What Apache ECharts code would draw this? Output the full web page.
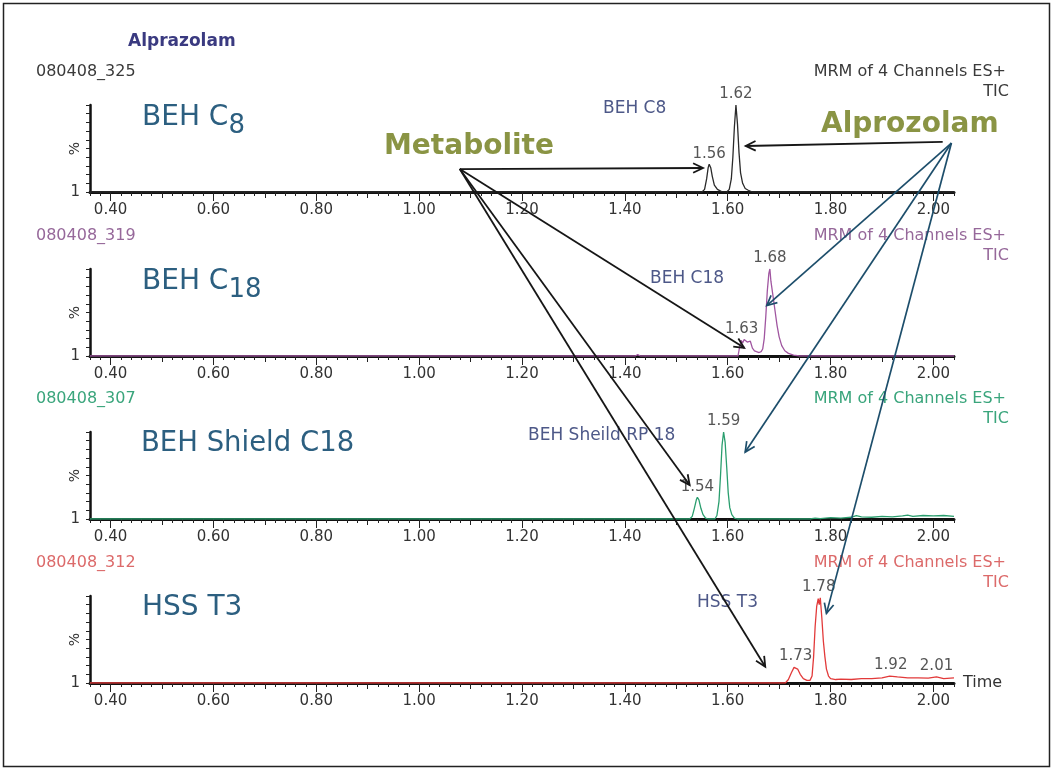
<!DOCTYPE html>
<html><head><meta charset="utf-8">
<script src="https://cdn.jsdelivr.net/npm/echarts@6/dist/echarts.min.js"></script>
<style>html,body{margin:0;padding:0;background:#fff}#c{width:1054px;height:771px}</style>
</head><body><div id="c"></div>
<script>
// ---------------- DATA ----------------
const xTickLabels = [0.40, 0.60, 0.80, 1.00, 1.20, 1.40, 1.60, 1.80, 2.00];
const xMediumTicks = [0.50, 0.70, 0.90, 1.10, 1.30, 1.50, 1.70, 1.90];
const X_MIN = 0.36, X_MAX = 2.04;

const runIds = ['080408_325', '080408_319', '080408_307', '080408_312'];
const columnNames = ['BEH C8', 'BEH C18', 'BEH Sheild RP 18', 'HSS T3'];
const channelText = 'MRM of 4 Channels ES+';
const channelSub = 'TIC';

// [time (min), intensity (%)]
const c8Trace = [[0.36,0],[1.550,0],[1.555,3],[1.559,15],[1.562,28],[1.564,32],[1.567,28],[1.570,18],[1.574,8],[1.580,3],[1.588,0.5],[1.598,0],[1.603,3],[1.607,15],[1.610,40],[1.613,75],[1.616,100],[1.619,78],[1.622,45],[1.625,22],[1.629,10],[1.634,4],[1.640,2],[1.648,0],[2.04,0]];
const c18Trace = [[0.36,0],[1.420,0],[1.425,1.5],[1.430,0],[1.620,0],[1.623,10],[1.626,18],[1.629,15],[1.632,19],[1.635,20],[1.638,16],[1.641,18],[1.644,17],[1.648,9],[1.652,6],[1.656,5],[1.661,4],[1.665,5],[1.668,8],[1.671,20],[1.674,45],[1.677,75],[1.680,95],[1.682,100],[1.684,86],[1.686,84],[1.689,65],[1.692,52],[1.696,35],[1.700,22],[1.705,12],[1.711,6],[1.718,3],[1.728,1],[1.740,0],[2.04,0]];
const shieldTrace = [[0.36,0],[1.526,0],[1.531,3],[1.535,12],[1.539,22],[1.541,25],[1.544,22],[1.548,12],[1.552,5],[1.557,1],[1.562,0],[1.575,0],[1.579,4],[1.583,20],[1.586,50],[1.589,85],[1.592,100],[1.595,88],[1.598,60],[1.601,30],[1.604,13],[1.608,5],[1.613,1],[1.618,0],[1.76,0],[1.77,1],[1.78,0.5],[1.80,1.5],[1.82,1],[1.84,2],[1.85,4],[1.86,2.5],[1.88,2],[1.90,3],[1.92,2.5],[1.94,3.5],[1.95,4.5],[1.96,3],[1.98,4],[2.00,3.5],[2.02,4],[2.04,3]];
const t3Trace = [[0.36,0],[1.712,0],[1.718,4],[1.724,12],[1.729,18],[1.732,19],[1.736,16],[1.741,10],[1.747,5],[1.754,3],[1.760,3],[1.764,8],[1.767,30],[1.770,65],[1.773,88],[1.776,97],[1.778,90],[1.780,98],[1.783,75],[1.786,48],[1.789,30],[1.792,16],[1.796,8],[1.800,5],[1.81,4],[1.82,4.5],[1.84,4],[1.86,5],[1.88,5],[1.90,6],[1.915,8],[1.93,7],[1.95,6],[1.97,6],[1.99,5.5],[2.006,7],[2.02,5],[2.04,6]];

// [time, intensity, label]
const c8Peaks = [[1.616,100,'1.62'],[1.564,32,'1.56']];
const c18Peaks = [[1.682,100,'1.68'],[1.627,19,'1.63']];
const shieldPeaks = [[1.592,100,'1.59'],[1.541,25,'1.54']];
const t3Peaks = [[1.777,98,'1.78'],[1.732,19,'1.73'],[1.917,8,'1.92'],[2.006,7,'2.01']];

// annotation arrows: [panel, time, intensity]
const metaboliteFrom = [0, 1.079, 26.4];
const metaboliteTo = [[0,1.552,27.6],[1,1.632,9.4],[2,1.526,39],[3,1.673,18.7]];
const alproBlackFrom = [0, 2.018, 57.5];
const alproBlackTo = [0, 1.635, 52.9];
const alproFrom = [0, 2.035, 56.3];
const alproTo = [[1,1.676,58],[2,1.634,77],[3,1.792,80]];

// ---------------- STYLE ----------------
const FONT = 'DejaVu Sans';
const GRID_TOP = [105, 269, 432, 596];
const GRID_H = 87;
const traces = [c8Trace, c18Trace, shieldTrace, t3Trace];
const peaks = [c8Peaks, c18Peaks, shieldPeaks, t3Peaks];
const traceColors = ['#2a2a2a', '#a056a0', '#2a9e6e', '#e23a3a'];
const headerColors = ['#3a3a3a', '#96689a', '#3aa57c', '#dc6a6a'];

const grids = [], xAxes = [], yAxes = [], series = [];
for (let i = 0; i < 4; i++) {
  grids.push({left: 90, top: GRID_TOP[i], width: 864, height: GRID_H});
  const base = {gridIndex: i, type: 'value', min: X_MIN, max: X_MAX, position: 'bottom', splitLine: {show: false}};
  xAxes.push(Object.assign({}, base, {
    interval: 0.02,
    axisLine: {onZero: false, lineStyle: {color: '#111', width: 3}},
    axisTick: {length: 4, lineStyle: {color: '#222', width: 1}},
    axisLabel: {customValues: xTickLabels, formatter: v => v.toFixed(2), margin: 11, fontFamily: FONT, fontSize: 15, color: '#333'},
    name: i === 3 ? 'Time' : '', nameLocation: 'end', nameGap: 9,
    nameTextStyle: {fontFamily: FONT, fontSize: 16, color: '#333'}
  }));
  xAxes.push(Object.assign({}, base, {
    axisLine: {show: false}, axisLabel: {show: false},
    axisTick: {show: true, customValues: xMediumTicks, length: 6, lineStyle: {color: '#222', width: 1}}
  }));
  xAxes.push(Object.assign({}, base, {
    axisLine: {show: false}, axisLabel: {show: false},
    axisTick: {show: true, customValues: xTickLabels, length: 9, lineStyle: {color: '#222', width: 1}}
  }));
  yAxes.push({
    gridIndex: i, type: 'value', min: 0, max: 100, interval: 10,
    axisLine: {show: true, onZero: false, lineStyle: {color: '#111', width: 2.5}},
    axisTick: {show: true, length: 4, lineStyle: {color: '#222', width: 1}},
    axisLabel: {customValues: [0], formatter: () => '1', margin: 10, fontFamily: FONT, fontSize: 15, color: '#333'},
    splitLine: {show: false},
    name: '%', nameLocation: 'middle', nameGap: 8, nameMoveOverlap: false,
    nameTextStyle: {fontFamily: FONT, fontSize: 14, color: '#333'}
  });
  series.push({
    type: 'line', xAxisIndex: 3 * i, yAxisIndex: i, data: traces[i],
    symbol: 'none', showSymbol: false, silent: true, z: 5,
    lineStyle: {color: traceColors[i], width: 1.3}
  });
  series.push({
    type: 'scatter', xAxisIndex: 3 * i, yAxisIndex: i, silent: true, z: 6,
    symbolSize: 0,
    data: peaks[i].map(d => ({value: [d[0], d[1]], name: d[2]})),
    label: {show: true, position: 'top', distance: 3, formatter: '{b}', fontFamily: FONT, fontSize: 15, color: '#2a2a2a'}
  });
}

const chart = echarts.init(document.getElementById('c'), null, {renderer: 'canvas'});
chart.setOption({
  backgroundColor: '#fff', animation: false,
  grid: grids, xAxis: xAxes, yAxis: yAxes, series: series
});

// ---------------- ANNOTATIONS ----------------
function px(p) { return chart.convertToPixel({xAxisIndex: 3 * p[0], yAxisIndex: p[0]}, [p[1], p[2]]); }
function arrow(from, to, color, width) {
  const a = px(from), b = px(to);
  const dx = b[0] - a[0], dy = b[1] - a[1], L = Math.hypot(dx, dy), ux = dx / L, uy = dy / L;
  const h = 11, ang = 0.45, c = Math.cos(ang), s = Math.sin(ang);
  const l = [b[0] - h * (ux * c - uy * s), b[1] - h * (uy * c + ux * s)];
  const r = [b[0] - h * (ux * c + uy * s), b[1] - h * (uy * c - ux * s)];
  return [
    {type: 'line', z: 100, shape: {x1: a[0], y1: a[1], x2: b[0], y2: b[1]}, style: {stroke: color, lineWidth: width}},
    {type: 'polyline', z: 100, shape: {points: [l, b, r]}, style: {stroke: color, lineWidth: width, fill: null}}
  ];
}
function txt(x, y, text, opt) {
  return {type: 'text', x: x, y: y, z: 50, style: Object.assign({text: text, fontFamily: FONT, fontSize: 16, fill: '#333', align: 'left', verticalAlign: 'middle'}, opt || {})};
}

const g = [];
g.push({type: 'rect', z: 0, shape: {x: 3.5, y: 3.5, width: 1046, height: 763}, style: {fill: 'none', stroke: '#222', lineWidth: 1.5}});
g.push(txt(128, 42, 'Alprazolam', {fontSize: 17, fontWeight: 'bold', fill: '#3a3a80'}));
const baseY = GRID_TOP.map(t => t + GRID_H);
const colNameX = [603, 650, 528, 697];
const colNameY = [109, 279, 436, 603];
for (let i = 0; i < 4; i++) {
  g.push(txt(36, baseY[i] - 120, runIds[i], {fill: headerColors[i]}));
  g.push(txt(1006, baseY[i] - 120, channelText, {fill: headerColors[i], align: 'right'}));
  g.push(txt(1009, baseY[i] - 100, channelSub, {fill: headerColors[i], align: 'right'}));
  g.push(txt(colNameX[i], colNameY[i], columnNames[i], {fontSize: 17, fill: '#4d5888'}));
}
const bigColor = '#2c5f80';
const richBig = {
  a: {fontFamily: FONT, fontSize: 28, lineHeight: 28, verticalAlign: 'top', fill: bigColor},
  s: {fontFamily: FONT, fontSize: 26, lineHeight: 44, verticalAlign: 'middle', fill: bigColor}
};
g.push({type: 'text', x: 142, y: 126, z: 50, style: {text: '{a|BEH C}{s|8}', rich: richBig, verticalAlign: 'middle', align: 'left'}});
g.push({type: 'text', x: 142, y: 290, z: 50, style: {text: '{a|BEH C}{s|18}', rich: richBig, verticalAlign: 'middle', align: 'left'}});
g.push(txt(141, 444, 'BEH Shield C18', {fontSize: 27.5, fill: bigColor}));
g.push(txt(142, 608, 'HSS T3', {fontSize: 28, fill: bigColor}));
const olive = '#8a9444';
g.push(txt(384, 147, 'Metabolite', {fontSize: 28, fontWeight: 'bold', fill: olive}));
g.push(txt(821, 125, 'Alprozolam', {fontSize: 28, fontWeight: 'bold', fill: olive}));

metaboliteTo.forEach(t => g.push(...arrow(metaboliteFrom, t, '#161616', 1.8)));
g.push(...arrow(alproBlackFrom, alproBlackTo, '#161616', 1.8));
alproTo.forEach(t => g.push(...arrow(alproFrom, t, '#1d4e6b', 1.7)));

chart.setOption({graphic: {elements: g}});
</script>
</body></html>
